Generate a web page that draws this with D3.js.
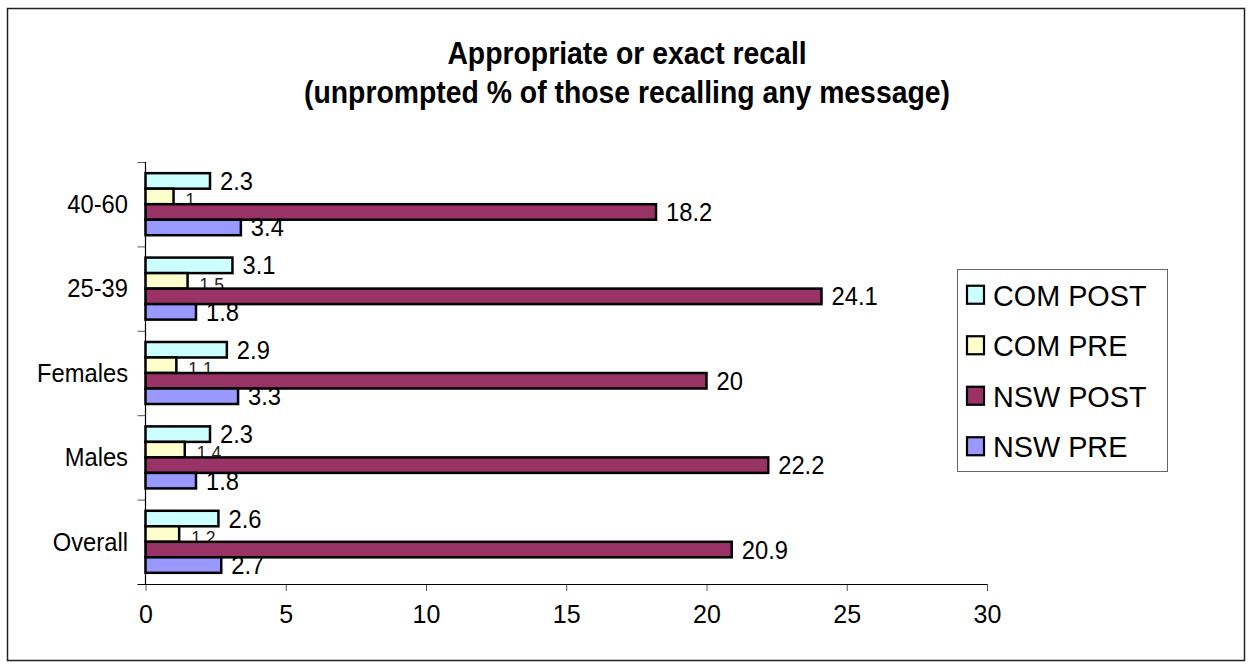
<!DOCTYPE html>
<html>
<head>
<meta charset="utf-8">
<script src="https://cdn.jsdelivr.net/npm/d3@7"></script>
<style>
  html, body { margin: 0; padding: 0; background: #fff; }
  svg { display: block; font-family: "Liberation Sans", Arial, sans-serif; }
</style>
</head>
<body>
<svg id="chart" width="1250" height="668"></svg>
<script>
// Categories listed top to bottom
const categories = ["40-60", "25-39", "Females", "Males", "Overall"];
// Series listed top to bottom within each group
const seriesNames = ["COM POST", "COM PRE", "NSW POST", "NSW PRE"];
const comPost = [2.3, 3.1, 2.9, 2.3, 2.6];
const comPre  = [1, 1.5, 1.1, 1.4, 1.2];
const nswPost = [18.2, 24.1, 20, 22.2, 20.9];
const nswPre  = [3.4, 1.8, 3.3, 1.8, 2.7];
const xTicks = [0, 5, 10, 15, 20, 25, 30];
const titleLines = ["Appropriate or exact recall", "(unprompted % of those recalling any message)"];

const seriesValues = [comPost, comPre, nswPost, nswPre];
const colors = ["#CCFFFF", "#FFFFCC", "#993366", "#9999FF"];

const svg = d3.select("#chart");

// Narrow, tall lettering: larger font squeezed horizontally
function condensed(sel, cx, cy, sx) {
  sel.attr("transform", `translate(${cx},${cy}) scale(${sx},1)`);
}

// Outer chart frame
svg.append("rect")
  .attr("x", 7.5).attr("y", 8.5).attr("width", 1237).attr("height", 652)
  .attr("fill", "#fff").attr("stroke", "#222").attr("stroke-width", 1.5);

// Title
svg.append("g").selectAll("text")
  .data(titleLines)
  .join("text")
  .attr("x", 0).attr("y", 0)
  .each(function (d, i) { condensed(d3.select(this), 627, 64 + i * 39, 0.93); })
  .attr("text-anchor", "middle")
  .attr("font-weight", "bold")
  .attr("font-size", 30.5)
  .attr("fill", "#000")
  .text(d => d);

// Plot area
const plot = { left: 145.5, right: 987, top: 162, bottom: 584 };

const x = d3.scaleLinear().domain([0, 30]).range([plot.left, plot.right]);
const y = d3.scaleBand().domain(categories).range([plot.top, plot.bottom]).padding(0);

const groupFrac = 0.735;
const ySub = d3.scaleBand()
  .domain(seriesNames)
  .range([0, y.bandwidth() * groupFrac])
  .padding(0);
const groupOffset = (y.bandwidth() * (1 - groupFrac)) / 2;

// X axis
const xAxis = d3.axisBottom(x).tickValues(xTicks).tickSize(7).tickSizeOuter(0).tickPadding(14);
const gx = svg.append("g")
  .attr("transform", `translate(0,${plot.bottom})`)
  .call(xAxis);
gx.select(".domain").remove();
gx.selectAll(".tick line").attr("stroke", "#555");
gx.selectAll(".tick text").attr("font-size", 25).attr("fill", "#000")
  .attr("font-family", "'Liberation Sans', Arial, sans-serif");
svg.append("line")
  .attr("x1", plot.left - 8).attr("x2", plot.right)
  .attr("y1", plot.bottom + 0.5).attr("y2", plot.bottom + 0.5)
  .attr("stroke", "#000").attr("stroke-width", 1.2);

// Y axis: tick marks at category boundaries
const boundaries = categories.map(c => y(c));
svg.append("g").selectAll("line")
  .data(boundaries)
  .join("line")
  .attr("x1", plot.left - 8).attr("x2", plot.left)
  .attr("y1", d => d + 0.5).attr("y2", d => d + 0.5)
  .attr("stroke", "#555").attr("stroke-width", 1);
svg.append("line")
  .attr("x1", plot.left).attr("x2", plot.left)
  .attr("y1", plot.top).attr("y2", plot.bottom)
  .attr("stroke", "#000").attr("stroke-width", 1.2);

// Category labels
svg.append("g").selectAll("text")
  .data(categories)
  .join("text")
  .attr("x", 0).attr("y", 0)
  .each(function (d) { condensed(d3.select(this), 128, y(d) + y.bandwidth() / 2, 0.95); })
  .attr("dy", "0.35em")
  .attr("text-anchor", "end")
  .attr("font-size", 25)
  .attr("fill", "#000")
  .text(d => d);

// Bars and value labels, drawn one series at a time
const bars = svg.append("g");
seriesNames.forEach((name, si) => {
  const vals = seriesValues[si];
  const rows = categories.map((c, ci) => ({ cat: c, value: vals[ci] }));
  const g = bars.append("g");
  g.selectAll("rect")
    .data(rows)
    .join("rect")
    .attr("x", x(0))
    .attr("y", d => y(d.cat) + groupOffset + ySub(name))
    .attr("width", d => x(d.value) - x(0))
    .attr("height", ySub.bandwidth())
    .attr("fill", colors[si])
    .attr("stroke", "#000")
    .attr("stroke-width", 2.5);
  const small = name === "COM PRE";
  g.selectAll("text")
    .data(rows)
    .join("text")
    .attr("x", 0).attr("y", 0)
    .each(function (d) {
      condensed(d3.select(this),
        x(d.value) + (small ? 12 : 10),
        y(d.cat) + groupOffset + ySub(name) + ySub.bandwidth() / 2 + (small ? 3 : 0),
        0.95);
    })
    .attr("dy", "0.36em")
    .attr("font-size", small ? 18.5 : 25)
    .attr("fill", small ? "#222" : "#000")
    .text(d => d.value);
});

// Legend
const legend = svg.append("g");
legend.append("rect")
  .attr("x", 957.5).attr("y", 269.5).attr("width", 210).attr("height", 202)
  .attr("fill", "#fff").attr("stroke", "#666").attr("stroke-width", 1);
const items = legend.selectAll("g.item")
  .data(seriesNames)
  .join("g")
  .attr("class", "item")
  .attr("transform", (d, i) => `translate(0,${269.5 + 25.25 + i * 50.5})`);
items.append("rect")
  .attr("x", 967).attr("y", -9).attr("width", 17).attr("height", 18)
  .attr("fill", (d, i) => colors[i])
  .attr("stroke", "#000").attr("stroke-width", 2.2);
items.append("text")
  .attr("transform", "translate(993,0) scale(0.96,1)")
  .attr("dy", "0.36em")
  .attr("font-size", 30)
  .attr("fill", "#000")
  .text(d => d);
</script>
</body>
</html>
